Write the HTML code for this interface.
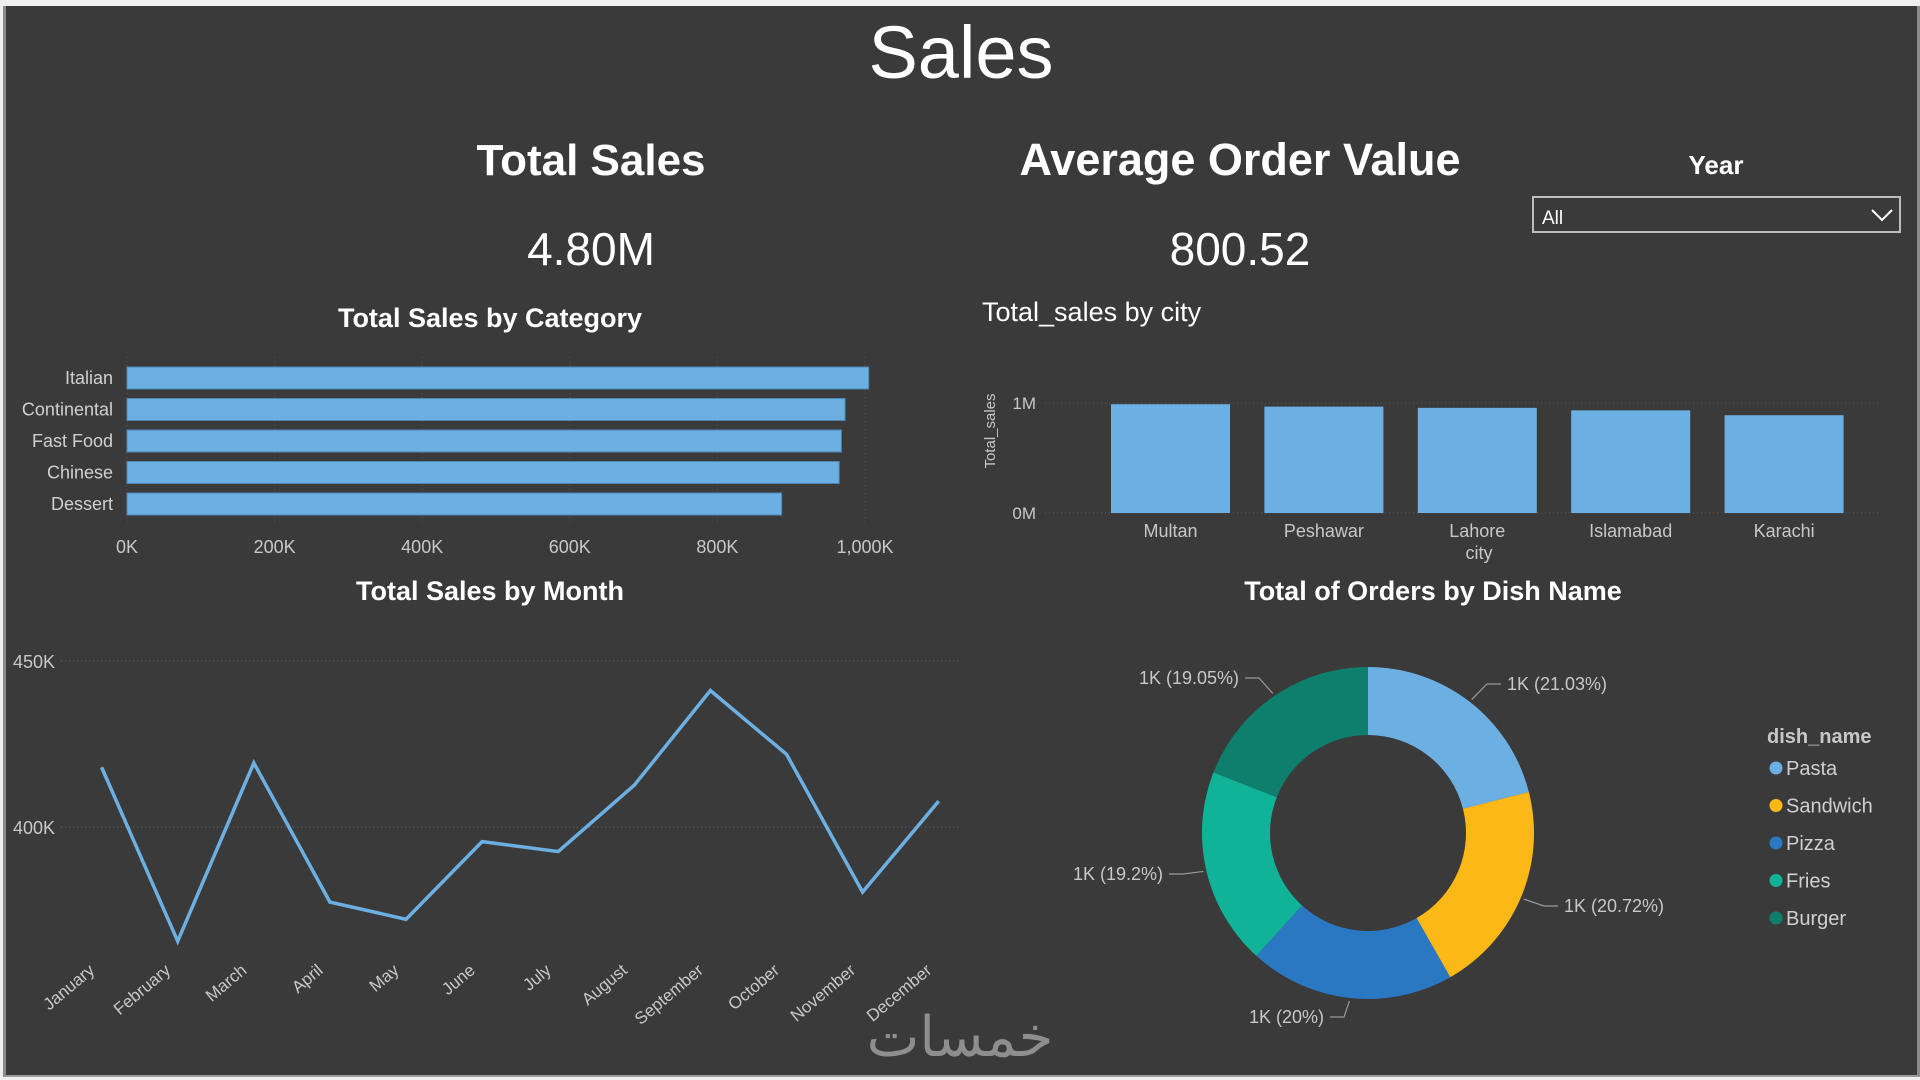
<!DOCTYPE html>
<html><head><meta charset="utf-8">
<style>
html,body{margin:0;padding:0;width:1920px;height:1080px;overflow:hidden;background:#f0f0f0;font-family:"Liberation Sans",sans-serif}
#dash{position:absolute;left:3px;top:6px;width:1911px;height:1069px;background:#3a3a3a;border-left:3px solid #8a8a8a;border-right:4px solid #8a8a8a;border-bottom:2px solid #9a9a9a}
</style></head><body>
<div id="dash"></div>
<svg width="1920" height="1080" style="position:absolute;left:0;top:0" font-family="Liberation Sans, sans-serif">
<text x="961" y="78" font-size="74" fill="#fff" text-anchor="middle">Sales</text>
<text x="591" y="175" font-size="44" font-weight="bold" fill="#fff" text-anchor="middle">Total Sales</text>
<text x="591" y="265" font-size="46" fill="#fff" text-anchor="middle">4.80M</text>
<text x="1240" y="175" font-size="45" font-weight="bold" fill="#fff" text-anchor="middle">Average Order Value</text>
<text x="1240" y="265" font-size="46" fill="#fff" text-anchor="middle">800.52</text>
<text x="1716" y="174" font-size="26" font-weight="bold" fill="#fff" text-anchor="middle">Year</text>
<g>
<rect x="1533" y="197" width="367" height="35" fill="#3a3a3a" stroke="#bdbdbd" stroke-width="2"/>
<text x="1542" y="224" font-size="19" fill="#fff">All</text>
<polyline points="1872,210 1882,220 1892,210" fill="none" stroke="#fff" stroke-width="2"/>
</g>
<text x="490" y="327" font-size="27" font-weight="bold" fill="#fff" text-anchor="middle">Total Sales by Category</text>
<g id="bars"></g>
<text x="490" y="600" font-size="27" font-weight="bold" fill="#fff" text-anchor="middle">Total Sales by Month</text>
<g id="line"></g>
<text x="982" y="321" font-size="27" fill="#fff">Total_sales by city</text>
<g id="cols"></g>
<text x="1433" y="600" font-size="27" font-weight="bold" fill="#fff" text-anchor="middle">Total of Orders by Dish Name</text>
<g id="donut"></g>
<text x="960" y="1056" font-size="56" fill="#8e8e8e" text-anchor="middle" font-family="DejaVu Sans, sans-serif">خمسات</text>
</svg>
<script>
const catNames=["Italian","Continental","Fast Food","Chinese","Dessert"];
const catValues=[1005000,973000,968000,965000,887000];
const catTicks=[0,200000,400000,600000,800000,1000000];
const catTickLabels=["0K","200K","400K","600K","800K","1,000K"];
const months=["January","February","March","April","May","June","July","August","September","October","November","December"];
const monthValues=[418000,365600,419300,377400,372200,395600,392600,412600,441100,421900,380400,407800];
const monthTicks=[400000,450000];
const monthTickLabels=["400K","450K"];
const cities=["Multan","Peshawar","Lahore","Islamabad","Karachi"];
const cityValues=[989000,967000,956000,933000,889000];
const cityTicks=[0,1000000];
const cityTickLabels=["0M","1M"];
const dishes=["Pasta","Sandwich","Pizza","Fries","Burger"];
const dishPct=[21.03,20.72,20,19.2,19.05];
const dishLabels=["1K (21.03%)","1K (20.72%)","1K (20%)","1K (19.2%)","1K (19.05%)"];
const dishColors=["#6cb0e3","#fbb817","#2a78c1","#10b398","#0e7f6c"];
const NS="http://www.w3.org/2000/svg";
function mk(p,tag,a,txt){const e=document.createElementNS(NS,tag);for(const k in a)e.setAttribute(k,a[k]);if(txt!=null)e.textContent=txt;p.appendChild(e);return e;}
(function(){const g=document.getElementById('bars');
const x=v=>127+v/1000000*738;const y0=367,pitch=31.5,bh=22;
catTicks.forEach((t,i)=>{mk(g,'line',{x1:x(t),x2:x(t),y1:357,y2:525,stroke:'#555','stroke-dasharray':'1 3'});
const l=mk(g,'text',{x:x(t),y:553,'font-size':18,fill:'#c8c8c8','text-anchor':'middle'},catTickLabels[i]);

});
catNames.forEach((n,i)=>{const y=y0+i*pitch;
const r=mk(g,'rect',{x:x(0),y:y,width:x(catValues[i])-x(0),height:bh,fill:'#6cb0e3',stroke:'#4d86b3','stroke-width':1});


const l=mk(g,'text',{x:113,y:y+17,'font-size':18,fill:'#d0d0d0','text-anchor':'end'},n);

});})();
(function(){const g=document.getElementById('line');
const x=i=>101.6+i*76.1;const y=v=>827-(v-400000)/50000*166;
monthTicks.forEach((t,i)=>{mk(g,'line',{x1:61,x2:958,y1:y(t),y2:y(t),stroke:'#666','stroke-dasharray':'1 3'});
const l=mk(g,'text',{x:13,y:y(t)+7,'font-size':18,fill:'#c8c8c8'},monthTickLabels[i]);

});
const p=mk(g,'polyline',{points:monthValues.map((v,i)=>x(i)+','+y(v)).join(' '),fill:'none',stroke:'#6cb0e3','stroke-width':3.5,'stroke-linejoin':'miter'});


months.forEach((m,i)=>{const l=mk(g,'text',{x:x(i)-6,y:972,'font-size':17,fill:'#c8c8c8','text-anchor':'end',transform:`rotate(-40 ${x(i)-6} 972)`},m);

});})();
(function(){const g=document.getElementById('cols');
const y=v=>513-v/1000000*110;const x=i=>1111+i*153.4;const bw=119;
cityTicks.forEach((t,i)=>{mk(g,'line',{x1:1045,x2:1880,y1:y(t),y2:y(t),stroke:'#5a5a5a','stroke-dasharray':'1 3'});
const l=mk(g,'text',{x:1036,y:y(t)+6,'font-size':17,fill:'#c8c8c8','text-anchor':'end'},cityTickLabels[i]);

});
mk(g,'text',{x:995,y:431,'font-size':15,fill:'#c8c8c8','text-anchor':'middle',transform:'rotate(-90 995 431)'},'Total_sales');
cities.forEach((c,i)=>{const r=mk(g,'rect',{x:x(i),y:y(cityValues[i]),width:bw,height:y(0)-y(cityValues[i]),fill:'#6cb0e3'});


const l=mk(g,'text',{x:x(i)+bw/2,y:537,'font-size':18,fill:'#c8c8c8','text-anchor':'middle'},c);

});
mk(g,'text',{x:1479,y:559,'font-size':18,fill:'#c8c8c8','text-anchor':'middle'},'city');})();
(function(){const g=document.getElementById('donut');
const cx=1368,cy=833,R=166,r=98;const tot=dishPct.reduce((a,b)=>a+b,0);
const pt=(a,rr)=>[cx+rr*Math.sin(a),cy-rr*Math.cos(a)];
let a0=0;
const lpos=[[1507,690,'start'],[1564,912,'start'],[1324,1023,'end'],[1163,880,'end'],[1239,684,'end']];
dishes.forEach((d,i)=>{const a1=a0+dishPct[i]/tot*2*Math.PI;const big=(a1-a0)>Math.PI?1:0;
const [x0,y0]=pt(a0,R),[x1,y1]=pt(a1,R),[x2,y2]=pt(a1,r),[x3,y3]=pt(a0,r);
const s=mk(g,'path',{d:`M${x0},${y0}A${R},${R} 0 ${big} 1 ${x1},${y1}L${x2},${y2}A${r},${r} 0 ${big} 0 ${x3},${y3}Z`,fill:dishColors[i]});


const am=(a0+a1)/2;const [ex,ey]=pt(am,R+3);const [lx,ly]=lpos[i];
const hx=lpos[i][2]=='start'?lx-6:lx+6;
mk(g,'polyline',{points:`${ex},${ey} ${hx+(lpos[i][2]=='start'?-14:14)},${ly-6} ${hx},${ly-6}`,fill:'none',stroke:'#9a9a9a','stroke-width':1.2});
const l=mk(g,'text',{x:lx,y:ly,'font-size':18,fill:'#c8c8c8','text-anchor':lpos[i][2]},dishLabels[i]);


a0=a1;});
mk(g,'text',{x:1767,y:743,'font-size':20,'font-weight':'bold',fill:'#c8c8c8'},'dish_name');
dishes.forEach((d,i)=>{const y=768+i*37.5;
const c=mk(g,'circle',{cx:1776,cy:y,r:6.5,fill:dishColors[i]});


const l=mk(g,'text',{x:1786,y:y+7,'font-size':20,fill:'#d0d0d0'},d);

});})();
</script>
</body></html>
